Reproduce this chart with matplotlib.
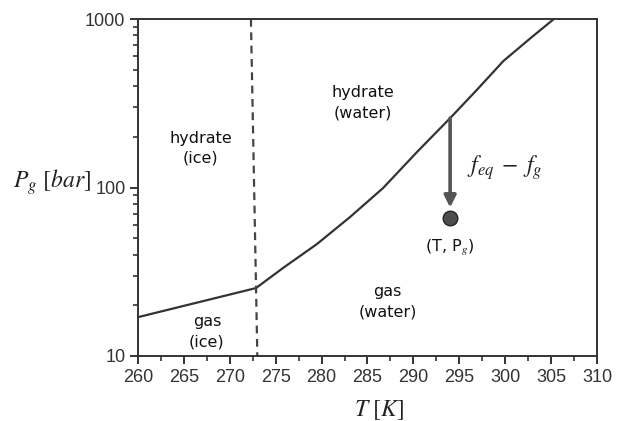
import matplotlib
matplotlib.use("Agg")
import matplotlib.pyplot as plt
from matplotlib.ticker import MultipleLocator, LogLocator, NullFormatter, FixedLocator

plt.rcParams['mathtext.fontset'] = 'stix'

# Hydrate equilibrium curve (T [K], P [bar])
curve_T = [260.0, 272.85, 275.8, 279.5, 283.1, 286.7, 290.4, 294.0, 296.9, 299.8, 302.7, 305.3]
curve_P = [17.0, 25.3, 33.3, 46.2, 66.8, 99.3, 162.6, 258, 379, 563, 765, 1000]

# ice/water boundary (dashed)
ice_T = [272.3, 273.0]
ice_P = [1000, 10]

# arrow and state point
arrow_T = 294.0
arrow_P_start = 258
arrow_P_end = 76
point_T = 294.0
point_P = 66

xticks = [260, 265, 270, 275, 280, 285, 290, 295, 300, 305, 310]
yticks = [10, 100, 1000]

W, H = 626, 421
fig = plt.figure(figsize=(W/100, H/100), dpi=100)
ax = fig.add_axes([138/W, 1-356/H, (597-138)/W, (356-19)/H])

spine_c = '#333333'
ax.plot(curve_T, curve_P, color='#333333', lw=1.6, solid_capstyle='butt', solid_joinstyle='round')
ax.plot(ice_T, ice_P, color='#444444', lw=1.6, dashes=(3.5, 2.5))

ax.annotate('', xy=(arrow_T, arrow_P_end), xytext=(arrow_T, arrow_P_start),
            arrowprops=dict(arrowstyle='-|>,head_width=0.35,head_length=0.7',
                            color='#555555', lw=2.6, shrinkA=0, shrinkB=0))
ax.plot([point_T], [point_P], 'o', ms=10.5, mfc='#4d4d4d', mec='#222222', mew=1.0)

ax.set_yscale('log')
ax.set_xlim(260, 310)
ax.set_ylim(10, 1000)
ax.xaxis.set_major_locator(FixedLocator(xticks))
ax.xaxis.set_minor_locator(MultipleLocator(2.5))
ax.yaxis.set_major_locator(FixedLocator(yticks))
ax.yaxis.set_minor_locator(LogLocator(base=10, subs=range(2, 10)))
ax.yaxis.set_minor_formatter(NullFormatter())
ax.set_xticklabels([str(t) for t in xticks])
ax.set_yticklabels([str(t) for t in yticks])

for s in ax.spines.values():
    s.set_color(spine_c)
    s.set_linewidth(1.4)
ax.tick_params(which='major', direction='out', length=6, width=1.4, color=spine_c,
               labelsize=13, labelcolor='#333333', pad=3)
ax.tick_params(which='minor', direction='out', length=3.5, width=1.2, color=spine_c)
for lab in ax.get_xticklabels() + ax.get_yticklabels():
    lab.set_family('Liberation Sans')

tf = dict(ha='center', va='center', fontsize=11.5, color='#111111', family='DejaVu Sans', linespacing=1.45)
ax.text(266.8, 171, 'hydrate\n(ice)', **tf)
ax.text(284.5, 317, 'hydrate\n(water)', **tf)
ax.text(267.5, 13.9, 'gas\n(ice)', **tf)
ax.text(287.2, 20.9, 'gas\n(water)', **tf)
ax.text(294.0, 43.7, r'(T, P$_g$)', ha='center', va='center', fontsize=11.5, color='#111111', family='DejaVu Sans')
ax.text(299.9, 131, r'$f_{eq}\;-\;f_g$', ha='center', va='center', fontsize=17, color='#222222')

fig.text(52/W, 1-182/H, r'$P_g\ [bar]$', ha='center', va='center', fontsize=17, color='#222222')
fig.text(379/W, 1-410/H, r'$T\ [K]$', ha='center', va='center', fontsize=17, color='#222222')

fig.savefig('out.png', dpi=100)
